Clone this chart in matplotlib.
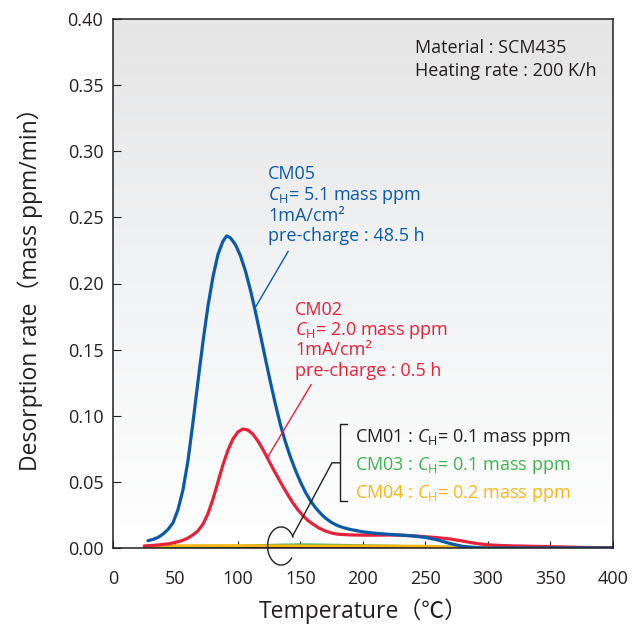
import numpy as np
import matplotlib
matplotlib.use("Agg")
import matplotlib.pyplot as plt
from matplotlib.colors import LinearSegmentedColormap

plt.rcParams['font.family'] = ['Open Sans', 'Noto Sans CJK JP', 'DejaVu Sans']
plt.rcParams['mathtext.fontset'] = 'custom'
plt.rcParams['mathtext.rm'] = 'Open Sans'
plt.rcParams['mathtext.it'] = 'Open Sans:italic'

# CM05 (blue)
t_cm05 = [28, 32, 36, 40, 44, 48, 52, 56, 60, 64, 68, 72, 76, 80, 84, 88, 91, 94, 98,
          102, 106, 110, 114, 118, 122, 126, 130, 134, 138, 142, 146, 150, 154, 158,
          162, 166, 170, 175, 180, 185, 190, 200, 210, 220, 230, 240, 250, 260, 270,
          280, 290, 300, 320, 350, 380, 400]
r_cm05 = [0.0055, 0.0065, 0.008, 0.0105, 0.014, 0.019, 0.029, 0.044, 0.066, 0.095,
          0.126, 0.156, 0.183, 0.205, 0.222, 0.232, 0.236, 0.2345, 0.2293,
          0.2209, 0.2093, 0.1949, 0.1785, 0.1609, 0.1429, 0.1252, 0.1085, 0.0930,
          0.0800, 0.0687, 0.0587, 0.0498, 0.0421, 0.0357, 0.0305, 0.0262, 0.0226,
          0.0192, 0.0168, 0.0152, 0.0140, 0.0122, 0.0111, 0.0104, 0.0098, 0.0091,
          0.0080, 0.0060, 0.0033, 0.0012, 0.0003, 0.0, 0.0, 0.0, 0.0, 0.0]

# CM02 (red)
t_cm02 = [25, 35, 45, 55, 60, 64, 68, 72, 76, 80, 84, 88, 92, 96, 100, 104, 108, 112,
          116, 120, 124, 128, 132, 136, 140, 144, 148, 152, 156, 160, 165, 170, 175,
          180, 190, 200, 210, 220, 230, 240, 250, 260, 270, 280, 290, 300, 310, 320,
          340, 360, 380, 400]
r_cm02 = [0.0015, 0.0022, 0.0032, 0.0055, 0.0075, 0.010, 0.013, 0.018, 0.026, 0.037,
          0.050, 0.063, 0.074, 0.0825, 0.0878, 0.090, 0.0892, 0.086, 0.0808, 0.0744,
          0.0672, 0.0600, 0.0532, 0.0464, 0.0400, 0.0340, 0.0288, 0.0244, 0.0208,
          0.0180, 0.0150, 0.0128, 0.0113, 0.0104, 0.0099, 0.0097, 0.0097, 0.0098,
          0.0097, 0.0092, 0.0085, 0.0078, 0.0068, 0.0052, 0.0035, 0.0024, 0.0019,
          0.0016, 0.0012, 0.0008, 0.0003, 0.0]

# CM01 (black), CM03 (green), CM04 (yellow)
t_low = [25, 50, 100, 130, 150, 175, 200, 250, 270, 300, 350, 400]
r_cm01 = [0.0003, 0.0004, 0.0005, 0.0005, 0.0005, 0.0005, 0.0005, 0.0004, 0.0004, 0.0003, 0.0002, 0.0002]
r_cm03 = [0.0008, 0.0012, 0.0015, 0.0022, 0.0025, 0.0022, 0.0018, 0.0010, 0.0008, 0.0005, 0.0004, 0.0003]
r_cm04 = [0.0015, 0.0018, 0.0018, 0.0017, 0.0016, 0.0016, 0.0016, 0.0014, 0.0008, 0.0003, 0.0002, 0.0001]

x_ticks = [0, 50, 100, 150, 200, 250, 300, 350, 400]
y_ticks = [0.00, 0.05, 0.10, 0.15, 0.20, 0.25, 0.30, 0.35, 0.40]

BLUE = '#0b5aa8'
RED = '#e8213b'
GREEN = '#3bb44b'
YELLOW = '#fbb616'
DARK = '#231f20'

fig = plt.figure(figsize=(6.43, 6.25), dpi=100)
ax = fig.add_axes([0.1757, 0.1232, 0.7776, 0.8464])

# gradient background
cmap = LinearSegmentedColormap.from_list('bg', ['#ffffff', '#f2f3f4', '#e5e5e6'])
grad = np.linspace(0, 1, 256).reshape(-1, 1)
ax.imshow(grad, extent=[0, 1, 0, 1], transform=ax.transAxes, origin='lower',
          aspect='auto', cmap=cmap, zorder=0)

kw = dict(solid_joinstyle='round', solid_capstyle='round')
ax.plot(t_low, r_cm01, color=DARK, lw=1.6, zorder=2, **kw)
ax.plot(t_low, r_cm03, color=GREEN, lw=2.0, zorder=3, **kw)
ax.plot(t_low, r_cm04, color=YELLOW, lw=2.0, zorder=4, **kw)
ax.plot(t_cm02, r_cm02, color=RED, lw=2.3, zorder=5, **kw)
ax.plot(t_cm05, r_cm05, color=BLUE, lw=2.3, zorder=6, **kw)

ax.set_xlim(0, 400)
ax.set_ylim(0, 0.40)
ax.set_xticks(x_ticks)
ax.set_yticks(y_ticks)
ax.set_yticklabels(['%.2f' % v for v in y_ticks])
ax.tick_params(axis='x', direction='in', length=5, width=0.8, pad=16,
               labelsize=13, colors=DARK)
ax.tick_params(axis='y', direction='in', length=6, width=0.8, pad=7,
               labelsize=13, colors=DARK)
for s in ax.spines.values():
    s.set_color(DARK)
    s.set_linewidth(1.1)
    s.set_zorder(8)

ax.set_xlabel('Temperature（℃）', fontsize=16.5, color=DARK)
ax.xaxis.set_label_coords(0.5, -0.095)
ax.set_ylabel('Desorption rate（mass ppm/min）', fontsize=16.5, color=DARK)
ax.yaxis.set_label_coords(-0.14, 0.5)

fs = 13
ax.text(241.5, 0.374, 'Material : SCM435', fontsize=fs, color=DARK)
ax.text(241.5, 0.357, 'Heating rate : 200 K/h', fontsize=fs, color=DARK)

cm05 = ['CM05', '$C_{\\mathrm{H}}$= 5.1 mass ppm', '1mA/cm²', 'pre-charge : 48.5 h']
for s, yb in zip(cm05, [0.2788, 0.2629, 0.2473, 0.2318]):
    ax.text(124.2, yb, s, fontsize=fs, color=BLUE, zorder=9)
ax.plot([113.8, 140.1], [0.1818, 0.2242], color=BLUE, lw=1.0, zorder=7)

cm02 = ['CM02', '$C_{\\mathrm{H}}$= 2.0 mass ppm', '1mA/cm²', 'pre-charge : 0.5 h']
for s, yb in zip(cm02, [0.1765, 0.161, 0.1458, 0.1303]):
    ax.text(145.7, yb, s, fontsize=fs, color=RED, zorder=9)
ax.plot([123.4, 158.5], [0.0682, 0.1235], color=RED, lw=1.0, zorder=7)

low = [('CM01 : $C_{\\mathrm{H}}$= 0.1 mass ppm', DARK, 0.0805),
       ('CM03 : $C_{\\mathrm{H}}$= 0.1 mass ppm', GREEN, 0.0591),
       ('CM04 : $C_{\\mathrm{H}}$= 0.2 mass ppm', YELLOW, 0.0377)]
for s, c, yb in low:
    ax.text(193.6, yb, s, fontsize=fs, color=c, zorder=9)

# bracket and leader to the low curves
ax.plot([187.0, 181.6, 181.6, 187.0], [0.0939, 0.0939, 0.0356, 0.0356],
        color=DARK, lw=1.0, zorder=7)
ax.plot([143.7, 175.2, 181.6], [0.0091, 0.0644, 0.0644], color=DARK, lw=1.0, zorder=7)
th = np.radians(np.linspace(28, 321, 80))
ax.plot(134.5 + 10.8 * np.cos(th), 0.0015 + 0.0144 * np.sin(th),
        color=DARK, lw=1.0, zorder=7, clip_on=False)

fig.savefig('out.png', dpi=100)
